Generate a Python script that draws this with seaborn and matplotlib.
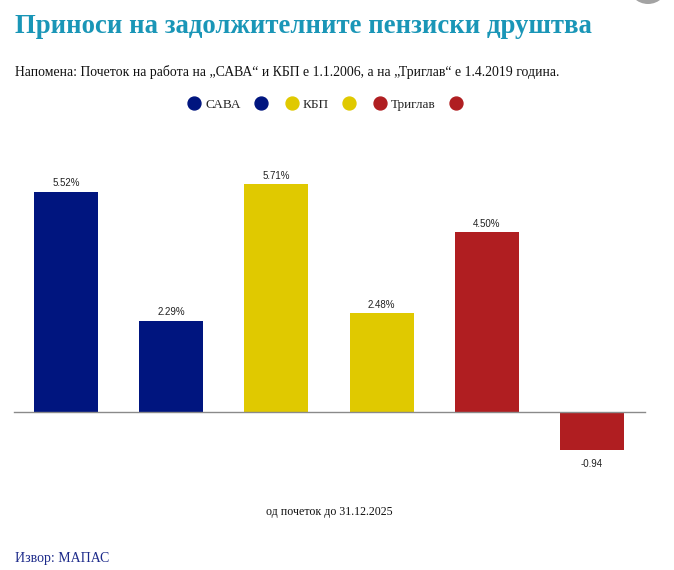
import matplotlib
matplotlib.use("Agg")
import matplotlib.pyplot as plt
from matplotlib.lines import Line2D
from matplotlib.patches import Ellipse
import seaborn as sns
import pandas as pd

# ---- data ----
bar_ids = ["САВА 1", "САВА 2", "КБП 1", "КБП 2", "Триглав 1", "Триглав 2"]
legend_labels = ["САВА", "", "КБП", "", "Триглав", ""]
values = [5.52, 2.29, 5.71, 2.48, 4.50, -0.94]
value_labels = ["5.52%", "2.29%", "5.71%", "2.48%", "4.50%", "-0.94"]
colors = ["#00157f", "#00157f", "#e0c900", "#e0c900", "#b01e21", "#b01e21"]

title = "Приноси на задолжителните пензиски друштва"
subtitle = ("Напомена: Почеток на работа на „САВА“ и КБП е 1.1.2006, "
            "а на „Триглав“ е 1.4.2019 година.")
xlabel = "од почеток до 31.12.2025"
source = "Извор: МАПАС"

df = pd.DataFrame({"bar": bar_ids, "value": values})

sns.set_theme(style="white")
plt.rcParams["font.family"] = ["Liberation Serif", "DejaVu Serif"]

W, H = 674, 570
fig = plt.figure(figsize=(W / 100, H / 100), dpi=100)
fig.patch.set_facecolor("white")

ax_left, ax_right = 13.5, 644.5
ax_top, ax_bot = 130, 480
ax = fig.add_axes([ax_left / W, 1 - ax_bot / H, (ax_right - ax_left) / W, (ax_bot - ax_top) / H])

sns.barplot(data=df, x="bar", y="value", hue="bar", order=bar_ids, hue_order=bar_ids,
            palette=dict(zip(bar_ids, colors)), width=0.61, legend=False, ax=ax,
            saturation=1, edgecolor="none")

px_per_unit = 39.9
ax.set_ylim(-(ax_bot - 412) / px_per_unit, (412 - ax_top) / px_per_unit)
ax.set_xlim(-0.5, len(bar_ids) - 0.5)

for s in ["top", "right", "left"]:
    ax.spines[s].set_visible(False)
ax.spines["bottom"].set_position(("data", 0))
ax.spines["bottom"].set_color("#8a8a8a")
ax.spines["bottom"].set_linewidth(1.0)
ax.set_yticks([])
ax.set_xticks([])
ax.set_xlabel("")
ax.set_ylabel("")
ax.patch.set_alpha(0)

# value labels
all_bars = [r for c in ax.containers for r in c]
all_bars.sort(key=lambda r: r.get_x())
for rect, lab in zip(all_bars, value_labels):
    h = rect.get_height()
    xc = rect.get_x() + rect.get_width() / 2
    if h >= 0:
        ax.annotate(lab, (xc, h), xytext=(0, 2.5), textcoords="offset points",
                    ha="center", va="bottom", fontsize=7, color="#222222",
                    family="Liberation Sans")
    else:
        ax.annotate(lab, (xc, h), xytext=(0, -6.5), textcoords="offset points",
                    ha="center", va="top", fontsize=7, color="#222222",
                    family="Liberation Sans")

# x label
fig.text(329 / W, 1 - 515 / H, xlabel, ha="center", va="baseline", fontsize=8.6,
         color="#111111", family="Liberation Serif")

# title, subtitle, source
fig.text(15 / W, 1 - 33 / H, title, ha="left", va="baseline", fontsize=19.3,
         fontweight="bold", color="#1a96b7", family="Liberation Serif")
fig.text(15 / W, 1 - 76 / H, subtitle, ha="left", va="baseline", fontsize=9.95,
         color="#111111", family="Liberation Serif")
fig.text(15 / W, 1 - 562 / H, source, ha="left", va="baseline", fontsize=10,
         color="#1c2a8a", family="Liberation Serif")

# legend
handles = [Line2D([0], [0], marker="o", linestyle="none", markersize=9.3,
                  markerfacecolor=c, markeredgecolor=c) for c in colors]
fs = 9.5
px_per_fs = fs * 100 / 72
leg = fig.legend(handles, legend_labels, ncol=6, loc="center",
                 bbox_to_anchor=(327 / W, 1 - 105 / H), frameon=False,
                 handlelength=14 / px_per_fs, handletextpad=4 / px_per_fs,
                 columnspacing=13 / px_per_fs, borderpad=0,
                 prop={"family": "Liberation Serif", "size": fs})

# grey UI circle at top right
fig.add_artist(Ellipse((648 / W, 1 + 16 / H), 40 / W, 40 / H, transform=fig.transFigure,
                       facecolor="#a3a3a3", edgecolor="none"))

fig.savefig("out.png", dpi=100, facecolor="white")
